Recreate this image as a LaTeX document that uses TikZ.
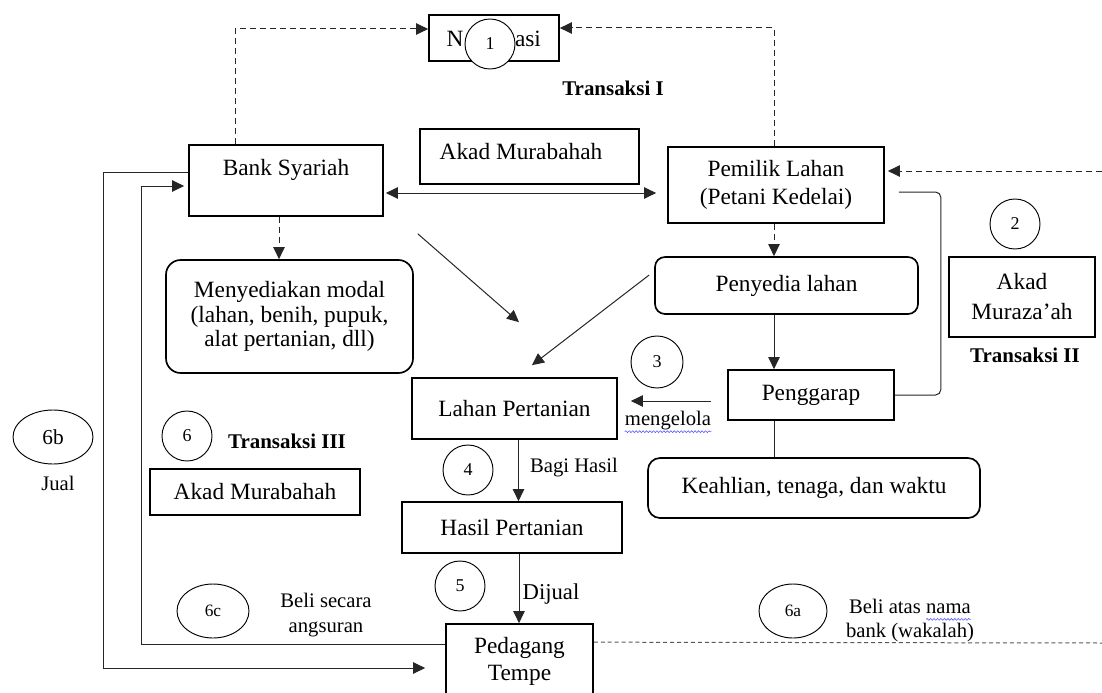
\documentclass[tikz,border=0pt]{standalone}
\usepackage{fontspec}
\setmainfont{Liberation Serif}
\usetikzlibrary{arrows.meta,calc,shapes.geometric,decorations.pathmorphing}
\begin{document}
\begin{tikzpicture}[x=0.75pt,y=-0.75pt,
  box/.style={draw, line width=1.25pt, inner sep=0pt},
  rbox/.style={box, rounded corners=9pt},
  txt/.style={inner sep=0pt, font=\fontsize{17.5}{21}\selectfont, align=center},
  small/.style={inner sep=0pt, font=\fontsize{15.5}{19}\selectfont, align=center},
  bold/.style={inner sep=0pt, font=\fontsize{15.7}{19}\selectfont\bfseries},
  num/.style={circle, draw, line width=0.7pt, fill=white, inner sep=0pt, minimum size=37.5pt, font=\fontsize{13.5}{14}\selectfont},
  oval/.style={ellipse, draw, line width=0.7pt, inner sep=0pt, fill=white},
  con/.style={line width=0.75pt, draw=black!85},
  arr/.style={con, -{Triangle[length=9pt,width=8.5pt]}},
  arr2/.style={con, {Triangle[length=9pt,width=8.5pt]}-{Triangle[length=9pt,width=8.5pt]}},
  dsh/.style={arr, dash pattern=on 4.5pt off 3pt},
  wavy/.style={draw=blue!65, line width=0.45pt, decorate, decoration={snake, amplitude=0.7pt, segment length=2.6pt}}
]
\useasboundingbox (0,0) rectangle (1102,692);

% boxes
\node[box, minimum width=97.5pt, minimum height=34.5pt] (notif) at (494,38) {};
\node[txt] (notifn) at (455,39) {N};
\node[txt] (notifa) at (528,39) {asi};
\node[box, minimum width=145.5pt, minimum height=53.25pt] (bank) at (286,180.5) {};
\node[txt] (bankt) at (286,170) {Bank Syariah};
\node[box, minimum width=164.25pt, minimum height=41.25pt] (akad1) at (529.5,156.5) {};
\node[txt] (akad1t) at (521,152) {Akad Murabahah};
\node[box, txt, minimum width=162pt, minimum height=57pt] (pemilik) at (776,185) {Pemilik Lahan\\(Petani Kedelai)};
\node[rbox, txt, rounded corners=11pt, font=\fontsize{17.5}{18.5}\selectfont, minimum width=185.25pt, minimum height=84.75pt] (menyed) at (289.5,316.5) {Menyediakan modal\\(lahan, benih, pupuk,\\alat pertanian, dll)};
\node[rbox, txt, rounded corners=7.5pt, minimum width=197.25pt, minimum height=42.75pt] (penyedia) at (786.5,285.5) {Penyedia lahan};
\node[box, txt, minimum width=153.75pt, minimum height=45.75pt] (lahan) at (514.5,408.5) {Lahan Pertanian};
\node[box, txt, minimum width=124.5pt, minimum height=37.5pt] (pengg) at (811,395) {Penggarap};
\node[rbox, txt, rounded corners=9pt, minimum width=249pt, minimum height=45pt] (keahlian) at (814,488) {Keahlian, tenaga, dan waktu};
\node[box, txt, minimum width=165pt, minimum height=38.25pt] (hasil) at (512,527.5) {Hasil Pertanian};
\node[box, minimum width=110.25pt, minimum height=72pt] (ped) at (519.5,672) {};
\node[txt, font=\fontsize{17.5}{20}\selectfont] (pedt) at (519.5,661.5) {Pedagang\\Tempe};
\node[box, txt, font=\fontsize{17.5}{22.5}\selectfont, minimum width=109.5pt, minimum height=60pt] (akad2) at (1022,297) {Akad\\Muraza’ah};
\node[box, txt, minimum width=157.5pt, minimum height=34.5pt] (akad3) at (255,492) {Akad Murabahah};

% connectors
\draw[dsh] ($(bank.north)+(-51,0)$) |- ($(notif.west)+(0,-9)$);
\draw[dsh] ($(pemilik.north)+(-2,0)$) |- ($(notif.east)+(0,-10)$);
\coordinate (bm) at ($(bank.south)+(-7,0)$);
\draw[dsh] (bm) -- (bm |- menyed.north);
\coordinate (pm) at ($(pemilik.south)+(-2,0)$);
\draw[dsh] (pm) -- (pm |- penyedia.north);
\coordinate (ba) at ($(bank.east)+(2,12.5)$);
\draw[arr2] (ba) -- ($(ba -| pemilik.west)+(-11,0)$);
\coordinate (rE) at (1102,171);
\draw[dsh] (rE) -- ($(rE -| pemilik.east)+(3,0)$);
\coordinate (pr) at ($(pemilik.east)+(14,7)$);
\draw[con, rounded corners=4pt] (pr) -- ++(42,0) |- (pengg.east);
\coordinate (d1s) at ($(bank.south east)+(34,17)$);
\coordinate (d1e) at ($(lahan.north)+(4.5,-55)$);
\draw[arr] (d1s) -- (d1e);
\coordinate (d2s) at ($(penyedia.west)+(-5,-10.5)$);
\coordinate (d2e) at ($(lahan.north)+(17.5,-12)$);
\draw[arr] (d2s) -- (d2e);
\coordinate (pp) at ($(penyedia.south)+(-12.5,0)$);
\draw[arr] (pp) -- (pp |- pengg.north);
\draw[con] (pp |- pengg.south) -- (pp |- keahlian.north);
\coordinate (m1) at ($(pengg.west)+(-16,6)$);
\draw[arr] (m1) -- ($(m1 -| lahan.east)+(13,0)$);
\coordinate (lh) at ($(lahan.south)+(4,0)$);
\draw[arr] (lh) -- (lh |- hasil.north);
\coordinate (hp) at ($(hasil.south)+(7,0)$);
\draw[arr] (hp) -- (hp |- ped.north);
\coordinate (pw) at ($(ped.north west)+(0,21)$);
\coordinate (bi) at ($(bank.west)+(-4,5.5)$);
\draw[arr] (pw) -| ($(bi)+(-43,0)$) -- (bi);
\coordinate (bo) at ($(bank.west)+(0,-8.5)$);
\coordinate (po) at ($(ped.west)+(-20,-4)$);
\draw[arr] (bo) -| ($(po)+(-322,0)$) -- (po);
\coordinate (pe) at ($(ped.north east)+(0,19)$);
\coordinate (rE2) at (1102,643);
\draw[con, draw=black!65, dash pattern=on 3pt off 2.2pt] (pe) -- (rE2);

% numbers
\node[num] (c1) at (490,44) {1};
\node[num] (c2) at (1015,224) {2};
\node[num, minimum size=39pt] (c3) at (657,362) {3};
\node[num] (c4) at (468,470) {4};
\node[num] (c5) at (460,586) {5};
\node[num] (c6) at (187,436) {6};
\node[oval, minimum width=60pt, minimum height=40.5pt, font=\fontsize{16}{16}\selectfont] (c6b) at (53,437) {6b};
\node[oval, minimum width=54pt, minimum height=40.5pt, font=\fontsize{13}{13}\selectfont] (c6c) at (213,611) {6c};
\node[oval, minimum width=51pt, minimum height=40.5pt, font=\fontsize{13}{13}\selectfont] (c6a) at (793,611) {6a};

% labels
\node[bold] (tr1) at (613,88) {Transaksi I};
\node[bold] (tr2) at (1025,355) {Transaksi II};
\node[bold] (tr3) at (287,441) {Transaksi III};
\node[small] (meng) at (668,421) {mengelola};
\node[small] (bagi) at (574,468) {Bagi Hasil};
\node[txt, font=\fontsize{17}{20}\selectfont] (dijual) at (551,594) {Dijual};
\node[small] (jual) at (58,483) {Jual};
\node[small] (beli1) at (326,615) {Beli secara\\angsuran};
\node[small, font=\fontsize{15.5}{18}\selectfont] (beli2) at (910,621) {Beli atas nama\\bank (wakalah)};
\draw[wavy] ($(meng.south west)+(0,1)$) -- ($(meng.south east)+(0,1)$);
\draw[wavy] ($(beli2.north)+(16,20)$) -- ($(beli2.north)+(61,20)$);
\end{tikzpicture}
\end{document}
